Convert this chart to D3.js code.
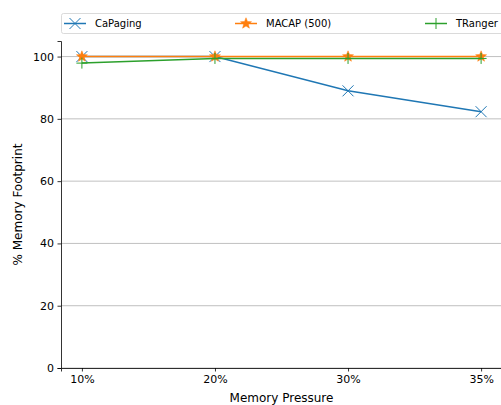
<!DOCTYPE html>
<html><head><meta charset="utf-8">
<script src="https://cdn.jsdelivr.net/npm/d3@7"></script>
<style>body{margin:0;background:#fff}svg{display:block;font-family:"DejaVu Sans",sans-serif}</style>
</head><body><svg id="c" width="501" height="405"></svg>
<script>
const categories = ["10%", "20%", "30%", "35%"];
const seriesNames = ["CaPaging", "MACAP (500)", "TRanger"];
const caPaging = [100, 100, 89.0, 82.3];
const macap = [100, 100, 100, 100];
const tranger = [97.9, 99.4, 99.4, 99.4];
const yTicks = [0, 20, 40, 60, 80, 100];
const colors = ["#1f77b4", "#ff7f0e", "#2ca02c"];
const markers = ["x", "star", "plus"];

const svg = d3.select("#c");
const L = 61, R = 502, T = 41, B = 368;
const x = d3.scalePoint().domain(categories).range([L, R]).padding(0.157);
const y = d3.scaleLinear().domain([0, 105]).range([B, T]);

// grid
svg.append("g").selectAll("line").data(yTicks).join("line")
  .attr("x1", L).attr("x2", R).attr("y1", d => y(d)).attr("y2", d => y(d))
  .attr("stroke", "#b0b0b0").attr("stroke-width", 0.8);

// axes
const ax = svg.append("g").attr("transform", `translate(0,${B})`)
  .call(d3.axisBottom(x).tickSize(3.5).tickPadding(3.5));
const ay = svg.append("g").attr("transform", `translate(${L},0)`)
  .call(d3.axisLeft(y).tickValues(yTicks).tickSize(3.5).tickPadding(3.5));
[ax, ay].forEach(g => {
  g.selectAll("text").attr("font-size", 11).attr("fill", "#000").attr("font-family", "DejaVu Sans");
  g.selectAll("line").attr("stroke", "#000").attr("stroke-width", 0.8);
  g.select(".domain").attr("stroke", "#000").attr("stroke-width", 0.8);
});

function drawMarker(g, type, cx, cy, color, s) {
  if (type === "x") {
    g.append("path").attr("d", `M${cx-s},${cy-s}L${cx+s},${cy+s}M${cx-s},${cy+s}L${cx+s},${cy-s}`)
      .attr("stroke", color).attr("stroke-width", 1).attr("fill", "none");
  } else if (type === "plus") {
    g.append("path").attr("d", `M${cx-s},${cy}L${cx+s},${cy}M${cx},${cy-s}L${cx},${cy+s}`)
      .attr("stroke", color).attr("stroke-width", 1).attr("fill", "none");
  } else {
    const pts = [];
    for (let i = 0; i < 10; i++) {
      const r = i % 2 === 0 ? s * 1.05 : s * 0.45;
      const a = -Math.PI / 2 + i * Math.PI / 5;
      pts.push([cx + r * Math.cos(a), cy + r * Math.sin(a)]);
    }
    g.append("path").attr("d", "M" + pts.join("L") + "Z").attr("fill", color).attr("stroke", color).attr("stroke-width", 0.5);
  }
}

const data = [caPaging, macap, tranger];
const line = d3.line().x((d, i) => x(categories[i])).y(d => y(d));
data.forEach((vals, si) => {
  const g = svg.append("g");
  g.append("path").datum(vals).attr("d", line).attr("fill", "none")
    .attr("stroke", colors[si]).attr("stroke-width", 1.5);
  vals.forEach((v, i) => drawMarker(g, markers[si], x(categories[i]), y(v), colors[si], 5.5));
});

// axis labels
svg.append("text").attr("x", (L + R) / 2).attr("y", 401.5).attr("text-anchor", "middle")
  .attr("font-size", 12).text("Memory Pressure");
svg.append("text").attr("transform", `translate(22,${(T + B) / 2}) rotate(-90)`)
  .attr("text-anchor", "middle").attr("font-size", 12).text("% Memory Footprint");

// legend
const lg = svg.append("g");
lg.append("rect").attr("x", 61.5).attr("y", 13.5).attr("width", 445).attr("height", 20).attr("rx", 2)
  .attr("fill", "#fff").attr("stroke", "#d0d0d0").attr("stroke-width", 0.8);
const lx = [64, 235, 425];
seriesNames.forEach((n, i) => {
  lg.append("line").attr("x1", lx[i]).attr("x2", lx[i] + 22).attr("y1", 23.5).attr("y2", 23.5)
    .attr("stroke", colors[i]).attr("stroke-width", 1.5);
  drawMarker(lg, markers[i], lx[i] + 11, 23.5, colors[i], 5.5);
  lg.append("text").attr("x", lx[i] + 31).attr("y", 27.3).attr("font-size", 10).text(n);
});
</script></body></html>
